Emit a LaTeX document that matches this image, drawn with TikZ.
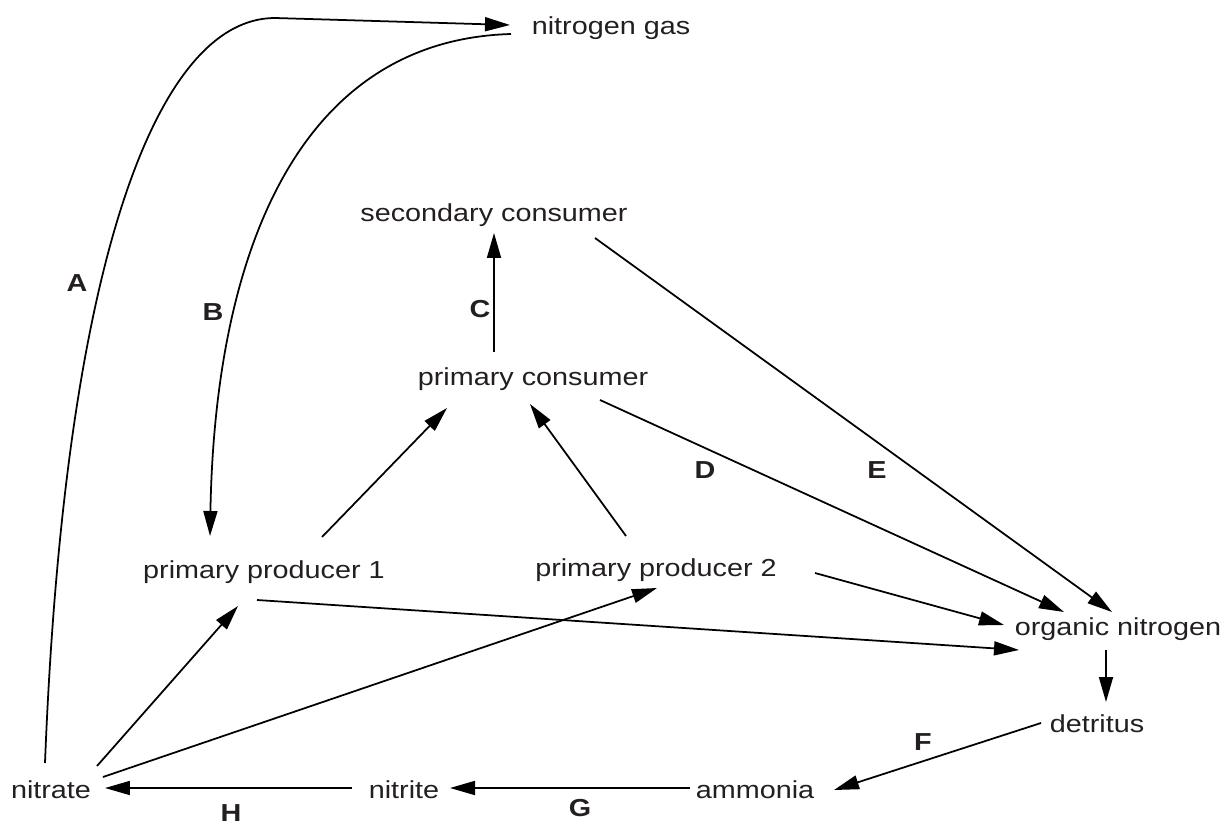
\documentclass[tikz,border=0pt]{standalone}
\usepackage{fontspec}
\setmainfont{Liberation Sans}[FakeStretch=1.17]
\usetikzlibrary{arrows.meta}
\definecolor{ink}{HTML}{231F20}
\begin{document}
\begin{tikzpicture}[x=0.02cm,y=-0.02cm,
  every node/.style={font=\fontsize{14}{16}\selectfont,text=ink,inner sep=0pt,anchor=base},
  tag/.style={font=\fontsize{14}{16}\selectfont\bfseries},
  flow/.style={line width=1pt,-{Triangle[length=0.5cm,width=0.28cm]}}]
\useasboundingbox (0,0) rectangle (1227,824);
% compartments
\node (gas) at (611,35) {nitrogen gas};
\node (sec) at (494,222) {secondary consumer};
\node (pri) at (533,385) {primary consumer};
\node (pp1) at (264,578) {primary producer 1};
\node (pp2) at (656,576) {primary producer 2};
\node (org) at (1118,635) {organic nitrogen};
\node (det) at (1097,732) {detritus};
\node (nitrate) at (51,798) {nitrate};
\node (nitrite) at (404,798) {nitrite};
\node (amm) at (755,798) {ammonia};
% process letters
\node[tag] (lA) at (77,292) {A};
\node[tag] (lB) at (213,320) {B};
\node[tag] (lC) at (480,317) {C};
\node[tag] (lD) at (705,478) {D};
\node[tag] (lE) at (877,478) {E};
\node[tag] (lF) at (923,750) {F};
\node[tag] (lG) at (580,816) {G};
\node[tag] (lH) at (231,821) {H};
% fluxes
\draw[flow] ([shift={(-6,-35)}]nitrate.base) .. controls (65,250) and (160,18) .. (275,18) -- ([shift={(-101,-10)}]gas.base);
\draw[flow] ([shift={(-100,-1)}]gas.base) .. controls (300,40) and (215,250) .. ([shift={(-54,-42)}]pp1.base);
\draw[flow] ([shift={(-39,-33)}]pri.base) -- ([shift={(0,11)}]sec.base);
\draw[flow] ([shift={(58,-41)}]pp1.base) -- ([shift={(-86,23)}]pri.base);
\draw[flow] ([shift={(-30,-40)}]pp2.base) -- ([shift={(-3,19)}]pri.base);
\draw[flow] ([shift={(67,15)}]pri.base) -- ([shift={(-54,-23)}]org.base);
\draw[flow] ([shift={(101,16)}]sec.base) -- ([shift={(-6,-23)}]org.base);
\draw[flow] ([shift={(159,-3)}]pp2.base) -- ([shift={(-114,-10)}]org.base);
\draw[flow] ([shift={(-7,22)}]pp1.base) -- ([shift={(-99,15)}]org.base);
\draw[flow] ([shift={(46,-32)}]nitrate.base) -- ([shift={(-26,28)}]pp1.base);
\draw[flow] ([shift={(52,-21)}]nitrate.base) -- ([shift={(1,12)}]pp2.base);
\draw[flow] ([shift={(-12,15)}]org.base) -- ([shift={(9,-30)}]det.base);
\draw[flow] ([shift={(-56,-9)}]det.base) -- ([shift={(79,-8)}]amm.base);
\draw[flow] ([shift={(-65,-10)}]amm.base) -- ([shift={(46,-10)}]nitrite.base);
\draw[flow] ([shift={(-52,-10)}]nitrite.base) -- ([shift={(54,-10)}]nitrate.base);
\end{tikzpicture}
\end{document}
